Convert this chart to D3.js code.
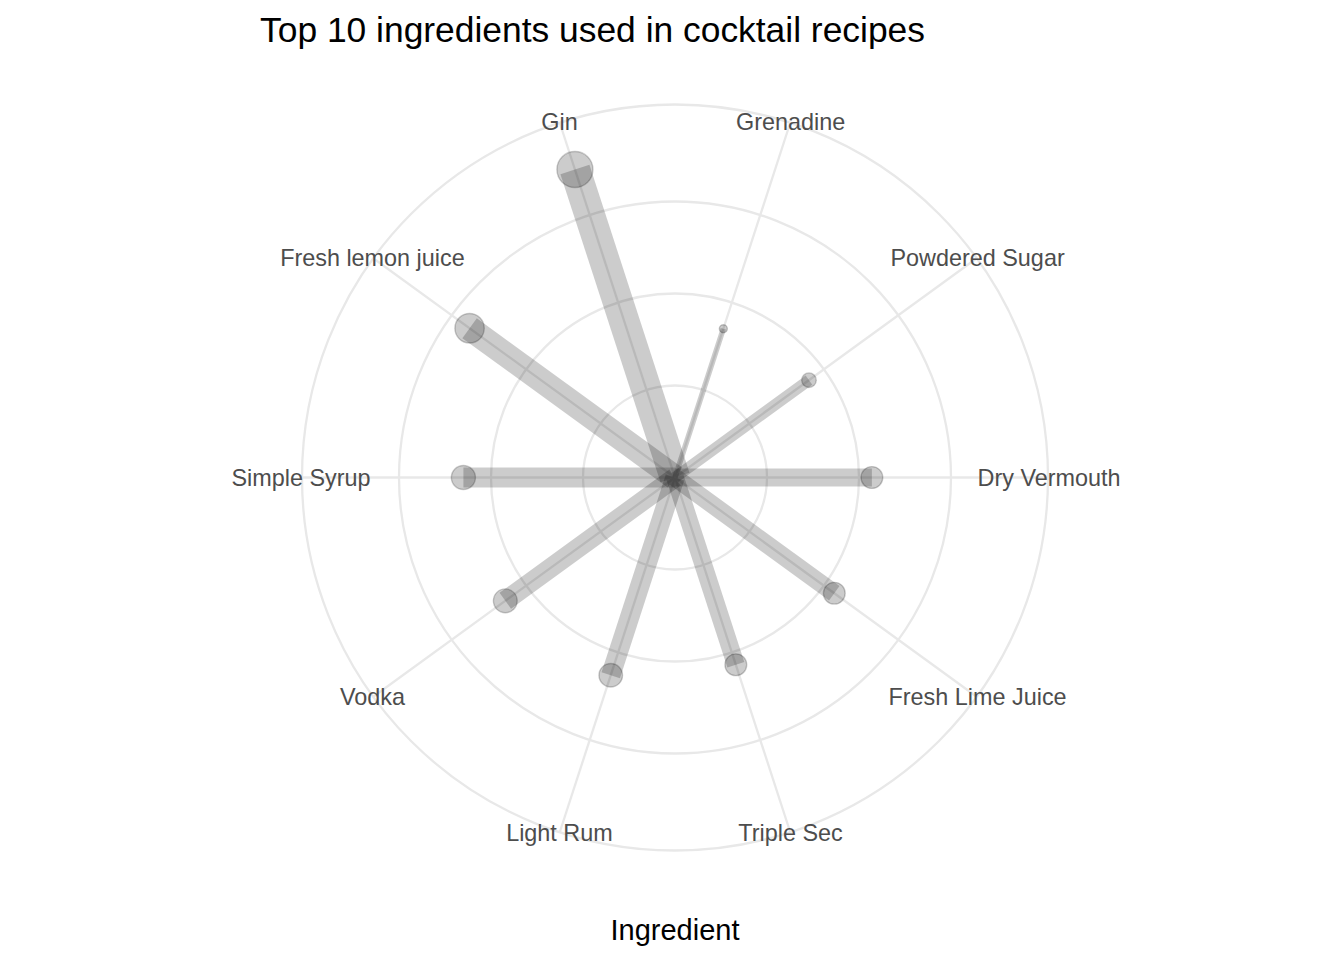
<!DOCTYPE html>
<html>
<head>
<meta charset="utf-8">
<script src="https://cdn.jsdelivr.net/npm/d3@7"></script>
<style>
  html, body { margin: 0; padding: 0; background: #ffffff; }
  svg { display: block; }
  text { font-family: "Liberation Sans", Arial, Helvetica, sans-serif; }
</style>
</head>
<body>
<svg id="chart" width="1344" height="960"></svg>
<script>
// ---- data ----
const categories = ["Grenadine", "Powdered Sugar", "Dry Vermouth", "Fresh Lime Juice", "Triple Sec",
                    "Light Rum", "Vodka", "Simple Syrup", "Fresh lemon juice", "Gin"];
const counts = [85, 90, 107, 107, 107, 113, 114, 115, 138, 176];
const radialBreaks = [50, 100, 150];
const titleText = "Top 10 ingredients used in cocktail recipes";
const xAxisTitle = "Ingredient";

// ---- layout ----
const W = 1344, H = 960;
const cx = 675, cy = 477.5;
const outerR = 373;
const labelR = 374;

const svg = d3.select("#chart");
const g = svg.append("g").attr("transform", `translate(${cx},${cy})`);

const theta = d3.scaleBand().domain(categories).range([0, 2 * Math.PI]).padding(0);
const angleOf = c => theta(c) + theta.bandwidth() / 2;
const r = d3.scaleLinear().domain([0, 150]).range([0, 276]);

const vMin = d3.min(counts), vMax = d3.max(counts);
const tSize = v => Math.sqrt((v - vMin) / (vMax - vMin));
const pointDiam = d3.scaleLinear().domain([0, 1]).range([8, 36]);
const bandWidth = d3.scaleLinear().domain([0, 1]).range([5.5, 30.5]);

const px = (a, rad) => rad * Math.sin(a);
const py = (a, rad) => -rad * Math.cos(a);

// grid circles
g.append("g").selectAll("circle")
  .data(radialBreaks.map(b => r(b)).concat([outerR]))
  .join("circle")
  .attr("r", d => d)
  .attr("fill", "none")
  .attr("stroke", "#e8e8e8")
  .attr("stroke-width", 2.3);

// spokes
g.append("g").selectAll("line")
  .data(categories)
  .join("line")
  .attr("x1", 0).attr("y1", 0)
  .attr("x2", d => px(angleOf(d), outerR))
  .attr("y2", d => py(angleOf(d), outerR))
  .attr("stroke", "#e8e8e8")
  .attr("stroke-width", 2.3);

const data = categories.map((c, i) => ({ c, v: counts[i] }));

// segments
g.append("g").selectAll("line")
  .data(data)
  .join("line")
  .attr("x1", 0).attr("y1", 0)
  .attr("x2", d => px(angleOf(d.c), r(d.v)))
  .attr("y2", d => py(angleOf(d.c), r(d.v)))
  .attr("stroke", "rgba(0,0,0,0.2)")
  .attr("stroke-linecap", "butt")
  .attr("stroke-width", d => bandWidth(tSize(d.v)));

// points
g.append("g").selectAll("circle")
  .data(data)
  .join("circle")
  .attr("cx", d => px(angleOf(d.c), r(d.v)))
  .attr("cy", d => py(angleOf(d.c), r(d.v)))
  .attr("r", d => pointDiam(tSize(d.v)) / 2)
  .attr("fill", "rgba(0,0,0,0.2)")
  .attr("stroke", "rgba(0,0,0,0.2)")
  .attr("stroke-width", 1.4);

// category labels
g.append("g").selectAll("text")
  .data(categories)
  .join("text")
  .attr("x", d => px(angleOf(d), labelR))
  .attr("y", d => py(angleOf(d), labelR))
  .attr("text-anchor", "middle")
  .attr("dominant-baseline", "central")
  .attr("font-size", 23.4)
  .attr("fill", "#4d4d4d")
  .text(d => d);

// title
svg.append("text")
  .attr("x", 260).attr("y", 41.5)
  .attr("font-size", 35.4)
  .attr("fill", "#000")
  .text(titleText);

// x axis title
svg.append("text")
  .attr("x", cx).attr("y", 940)
  .attr("text-anchor", "middle")
  .attr("font-size", 29)
  .attr("fill", "#000")
  .text(xAxisTitle);
</script>
</body>
</html>
